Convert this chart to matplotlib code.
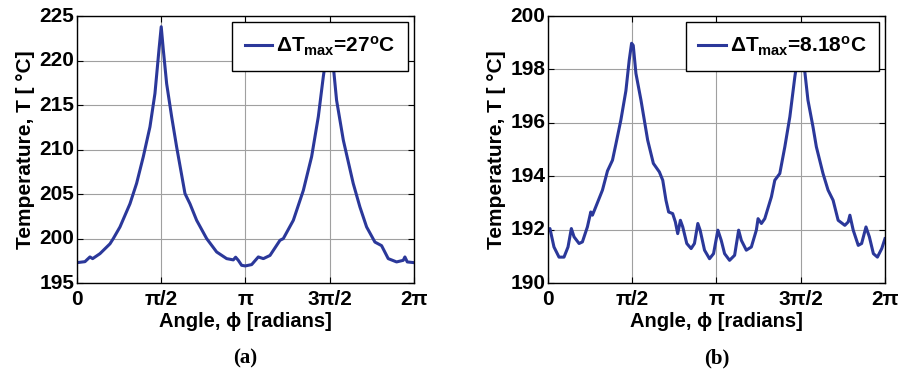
import numpy as np
from matplotlib import pyplot as plt
from matplotlib.transforms import ScaledTranslation

plt.rcParams['font.family'] = ['Liberation Sans', 'DejaVu Sans']
plt.rcParams['font.weight'] = 'bold'
plt.rcParams['mathtext.fontset'] = 'custom'
plt.rcParams['mathtext.rm'] = 'Liberation Sans:bold'
plt.rcParams['mathtext.it'] = 'Liberation Sans:bold'
plt.rcParams['mathtext.bf'] = 'Liberation Sans:bold'

# panel (a): angle [rad], temperature [C]
phi_a = [0.0, 0.149, 0.242, 0.292, 0.429, 0.615, 0.677, 0.802, 0.988, 1.112,
         1.237, 1.361, 1.454, 1.529, 1.571, 1.61, 1.672, 1.765, 1.858, 2.014,
         2.107, 2.231, 2.418, 2.604, 2.791, 2.915, 2.958, 3.008, 3.07, 3.138,
         3.257, 3.381, 3.475, 3.599, 3.785, 3.847, 4.034, 4.22, 4.375, 4.5,
         4.593, 4.672, 4.712, 4.745, 4.78, 4.84, 4.966, 5.15, 5.275, 5.4,
         5.555, 5.679, 5.803, 5.959, 6.083, 6.114, 6.158, 6.283]
temp_a = [197.29, 197.4, 197.93, 197.74, 198.3, 199.4, 199.99, 201.3, 203.9, 206.2,
          209.2, 212.55, 216.3, 221.2, 223.8, 221.2, 217.4, 213.7, 210.3, 205.05,
          203.9, 202.05, 199.99, 198.49, 197.74, 197.6, 197.9, 197.55, 196.99, 196.92,
          197.07, 197.93, 197.74, 198.1, 199.8, 199.99, 202.05, 205.4, 209.2, 213.7,
          218.2, 221.5, 223.6, 221.5, 219.3, 215.55, 211.05, 206.2, 203.55, 201.3,
          199.6, 199.2, 197.74, 197.37, 197.55, 197.93, 197.37, 197.29]

# panel (b)
phi_b = [0.0, 0.037, 0.112, 0.206, 0.299, 0.374, 0.436, 0.486, 0.58, 0.642,
         0.735, 0.798, 0.829, 0.891, 1.016, 1.11, 1.203, 1.266, 1.359, 1.453,
         1.515, 1.559, 1.59, 1.64, 1.734, 1.859, 1.965, 2.077, 2.14, 2.2,
         2.25, 2.325, 2.375, 2.419, 2.469, 2.513, 2.588, 2.669, 2.731, 2.794,
         2.837, 2.919, 3.012, 3.087, 3.168, 3.23, 3.293, 3.386, 3.48, 3.555,
         3.605, 3.698, 3.792, 3.885, 3.917, 3.979, 4.042, 4.166, 4.229, 4.322,
         4.416, 4.51, 4.603, 4.653, 4.697, 4.73, 4.785, 4.847, 4.941, 5.004,
         5.128, 5.222, 5.316, 5.41, 5.535, 5.598, 5.629, 5.691, 5.785, 5.848,
         5.929, 5.992, 6.067, 6.142, 6.223, 6.283]
temp_b = [191.97, 192.04, 191.35, 190.97, 190.97, 191.35, 192.04, 191.73, 191.48, 191.54,
          192.1, 192.66, 192.54, 192.85, 193.48, 194.2, 194.6, 195.2, 196.1, 197.2,
          198.35, 198.98, 198.9, 197.85, 196.85, 195.35, 194.48, 194.16, 193.85, 193.1,
          192.66, 192.6, 192.29, 191.85, 192.35, 192.1, 191.48, 191.29, 191.48, 192.23,
          191.98, 191.23, 190.91, 191.1, 191.98, 191.6, 191.1, 190.85, 191.04, 191.98,
          191.6, 191.23, 191.35, 191.98, 192.41, 192.23, 192.41, 193.23, 193.85, 194.1,
          195.1, 196.23, 197.73, 198.4, 198.95, 198.6, 197.98, 196.85, 195.85, 195.1,
          194.1, 193.48, 193.1, 192.35, 192.16, 192.29, 192.54, 191.98, 191.41, 191.48,
          192.1, 191.73, 191.1, 190.97, 191.29, 191.66]

xtick_pos = [0, np.pi / 2, np.pi, 3 * np.pi / 2, 2 * np.pi]
xtick_lbl = ['0', 'π/2', 'π', '3π/2', '2π']

panels = [
    (phi_a, temp_a, (195, 225), np.arange(195, 226, 5), r'$\Delta T_{max}$=27$^{o}$C', '(a)', 0.0857),
    (phi_b, temp_b, (190, 200), np.arange(190, 201, 2), r'$\Delta T_{max}$=8.18$^{o}$C', '(b)', 0.6102),
]

fig = plt.figure(figsize=(8.98, 3.72), dpi=100)
up = ScaledTranslation(0, 2 / 100, fig.dpi_scale_trans)
for phi, temp, ylim, yt, leg, tag, left in panels:
    ax = fig.add_axes([left, 0.2392, 0.3753, 0.7177])
    ax.plot(phi, temp, color='#2b389a', lw=2.2, label=leg)
    ax.set_xlim(0, 2 * np.pi)
    ax.set_ylim(*ylim)
    ax.set_xticks(xtick_pos)
    ax.set_xticklabels(xtick_lbl)
    ax.set_yticks(yt)
    ax.tick_params(direction='in', top=True, right=True, labelsize=15, length=4)
    ax.tick_params(axis='x', pad=5)
    ax.tick_params(axis='y', pad=2)
    for lbl in ax.get_yticklabels():
        lbl.set_transform(lbl.get_transform() + up)
    ax.grid(True, color='#a0a0a0', lw=0.8)
    ax.set_axisbelow(True)
    for s in ax.spines.values():
        s.set_linewidth(1.0)
    ax.set_xlabel('Angle, ϕ [radians]', fontsize=14.5, fontweight='bold', labelpad=2)
    ax.set_ylabel('Temperature, T [ °C]', fontsize=15, fontweight='bold', labelpad=3)
    lg = ax.legend(loc='upper right', fontsize=15, fancybox=False, framealpha=1,
                   edgecolor='black', borderaxespad=0.3, handlelength=1.3,
                   handletextpad=0.2, borderpad=0.6)
    lg.get_frame().set_linewidth(1.0)
    fig.text(left + 0.3753 / 2, 0.035, tag, ha='center', va='center',
             family='Liberation Serif', fontweight='bold', fontsize=15)

fig.savefig('out.png', dpi=100)
